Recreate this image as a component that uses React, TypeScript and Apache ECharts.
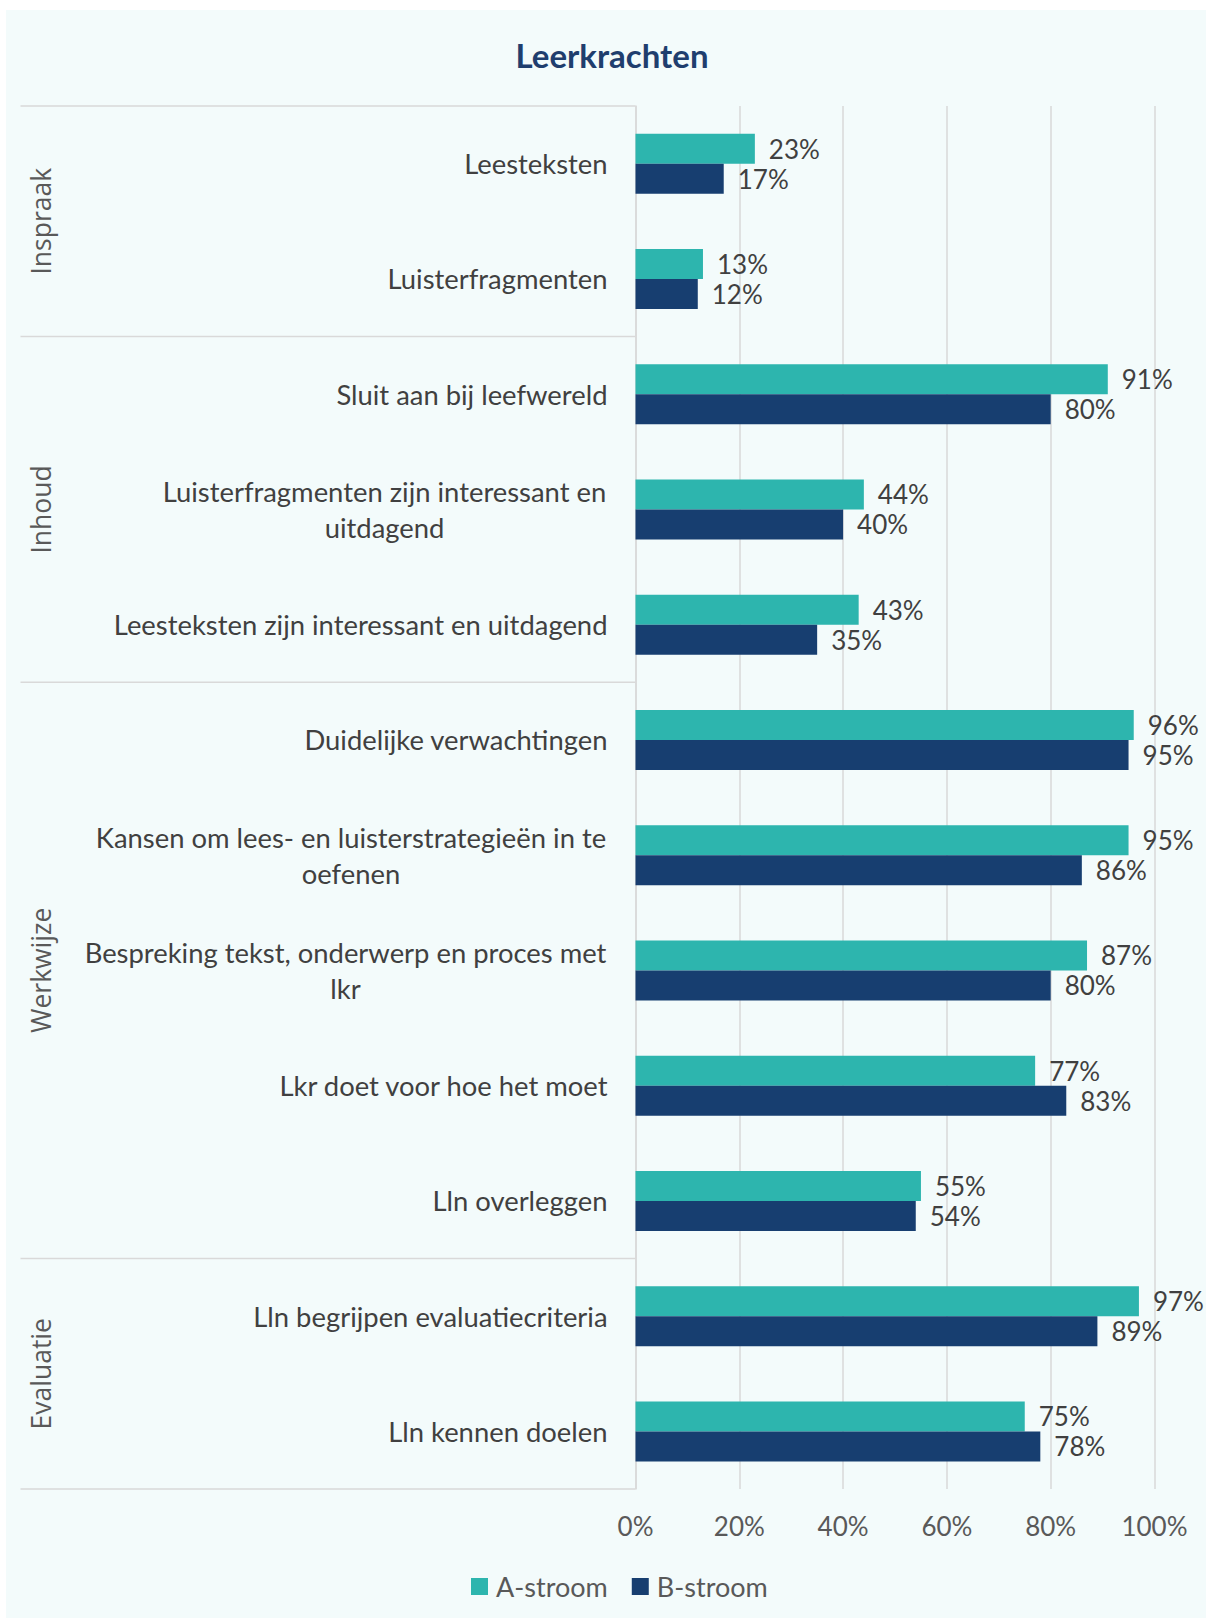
import React, { useEffect, useRef } from 'react';
import * as echarts from 'echarts';

const categories = [
  'Leesteksten',
  'Luisterfragmenten',
  'Sluit aan bij leefwereld',
  'Luisterfragmenten zijn interessant en\nuitdagend',
  'Leesteksten zijn interessant en uitdagend',
  'Duidelijke verwachtingen',
  'Kansen om lees- en luisterstrategieën in te\noefenen',
  'Bespreking tekst, onderwerp en proces met\nlkr',
  'Lkr doet voor hoe het moet',
  'Lln overleggen',
  'Lln begrijpen evaluatiecriteria',
  'Lln kennen doelen',
];
const aStroom = [23, 13, 91, 44, 43, 96, 95, 87, 77, 55, 97, 75];
const bStroom = [17, 12, 80, 40, 35, 95, 86, 80, 83, 54, 89, 78];
const groups = ['Inspraak', 'Inhoud', 'Werkwijze', 'Evaluatie'];
const groupSizes = [2, 3, 5, 2];
const seriesNames = ['A-stroom', 'B-stroom'];
const xMin = 0;
const xMax = 100;
const xStep = 20;

const FONT = 'Lato, "Noto Sans", sans-serif';
const FS = 26;
const CFS = 27.4;
const TEAL = '#2DB5AE';
const NAVY = '#173E70';
const GRID = '#D9D9D9';
const BG = '#F3FBFB';

function measure(s: string): number {
  const c = document.createElement('canvas');
  const ctx = c.getContext('2d');
  if (!ctx) return s.length * CFS * 0.5;
  ctx.font = `${CFS}px Lato`;
  return ctx.measureText(s).width;
}

export default function App() {
  const ref = useRef<HTMLDivElement>(null);
  useEffect(() => {
    document.body.style.margin = '0';
    if (!ref.current) return;
    const chart = echarts.init(ref.current, null, { renderer: 'svg' });

    const rich: Record<string, any> = {};
    categories.forEach((c, i) => {
      const lines = c.split('\n');
      if (lines.length > 1) {
        const w = Math.ceil(Math.max(...lines.map(measure))) + 2;
        rich['w' + i] = {
          width: w,
          align: 'center',
          fontSize: CFS,
          lineHeight: 36,
          color: '#404040',
          fontFamily: FONT,
        };
      }
    });

    chart.setOption({
      animation: false,
      backgroundColor: '#ffffff',
      title: {
        text: 'Leerkrachten',
        left: 607,
        top: 33,
        textAlign: 'center',
        textStyle: { fontFamily: FONT, fontWeight: 'bold', fontSize: 33, color: '#1F3E6E' },
      },
      grid: { left: 635.5, right: 51.5, top: 106, bottom: 129 },
      legend: {
        data: seriesNames,
        left: 466,
        top: 1568,
        itemWidth: 17,
        itemHeight: 17,
        itemGap: 24,
        icon: 'rect',
        textStyle: { fontFamily: FONT, fontSize: 27, color: '#595959', padding: [0, 0, 0, 3] },
      },
      xAxis: {
        type: 'value',
        min: xMin,
        max: xMax,
        interval: xStep,
        axisLine: { show: false },
        axisTick: { show: false },
        splitLine: { lineStyle: { color: GRID, width: 1.5 } },
        axisLabel: {
          formatter: '{value}%',
          fontFamily: FONT,
          fontSize: FS,
          color: '#595959',
          margin: 24,
        },
      },
      yAxis: {
        type: 'category',
        inverse: true,
        data: categories,
        axisLine: { show: true, lineStyle: { color: GRID, width: 1.5 } },
        axisTick: { show: false },
        axisLabel: {
          fontFamily: FONT,
          fontSize: CFS,
          color: '#404040',
          lineHeight: 36,
          margin: 28,
          rich,
          formatter: (v: string, i: number) => {
            const lines = v.split('\n');
            if (lines.length === 1) return v;
            return lines.map((l) => `{w${i}|${l}}`).join('\n');
          },
        },
      },
      series: [
        {
          name: seriesNames[0],
          type: 'bar',
          data: aStroom,
          barWidth: 30,
          barGap: '0%',
          itemStyle: { color: TEAL },
          label: {
            show: true,
            position: 'right',
            distance: 14,
            formatter: '{c}%',
            fontFamily: FONT,
            fontSize: FS,
            color: '#404040',
          },
        },
        {
          name: seriesNames[1],
          type: 'bar',
          data: bStroom,
          barWidth: 30,
          barGap: '0%',
          itemStyle: { color: NAVY },
          label: {
            show: true,
            position: 'right',
            distance: 14,
            formatter: '{c}%',
            fontFamily: FONT,
            fontSize: FS,
            color: '#404040',
          },
        },
      ],
    });

    // group separators and labels from the category scale
    const y0 = chart.convertToPixel({ yAxisIndex: 0 }, 0) as number;
    const y1 = chart.convertToPixel({ yAxisIndex: 0 }, 1) as number;
    const band = y1 - y0;
    const axisX = chart.convertToPixel({ xAxisIndex: 0 }, 0) as number;
    const graphics: any[] = [
      {
        type: 'rect',
        z: -10,
        silent: true,
        shape: { x: 6, y: 10, width: 1206, height: 1618 },
        style: { fill: BG },
      },
    ];
    let start = 0;
    const boundaryY = (idx: number) => (chart.convertToPixel({ yAxisIndex: 0 }, idx) as number) - band / 2;
    graphics.push({
      type: 'line',
      shape: { x1: 20.5, y1: boundaryY(0), x2: axisX, y2: boundaryY(0) },
      style: { stroke: GRID, lineWidth: 1.5 },
    });
    groups.forEach((g, gi) => {
      const end = start + groupSizes[gi];
      const top = boundaryY(start);
      const bot = boundaryY(end);
      graphics.push({
        type: 'line',
        shape: { x1: 20.5, y1: bot, x2: axisX, y2: bot },
        style: { stroke: GRID, lineWidth: 1.5 },
      });
      graphics.push({
        type: 'text',
        x: 41,
        y: (top + bot) / 2,
        rotation: Math.PI / 2,
        style: {
          text: g,
          fontFamily: '"Open Sans", sans-serif',
          fontSize: 26.5,
          fill: '#595959',
          align: 'center',
          verticalAlign: 'middle',
        },
      });
      start = end;
    });
    chart.setOption({ graphic: graphics });

    return () => chart.dispose();
  }, []);
  return <div ref={ref} style={{ width: 1206, height: 1618 }} />;
}
